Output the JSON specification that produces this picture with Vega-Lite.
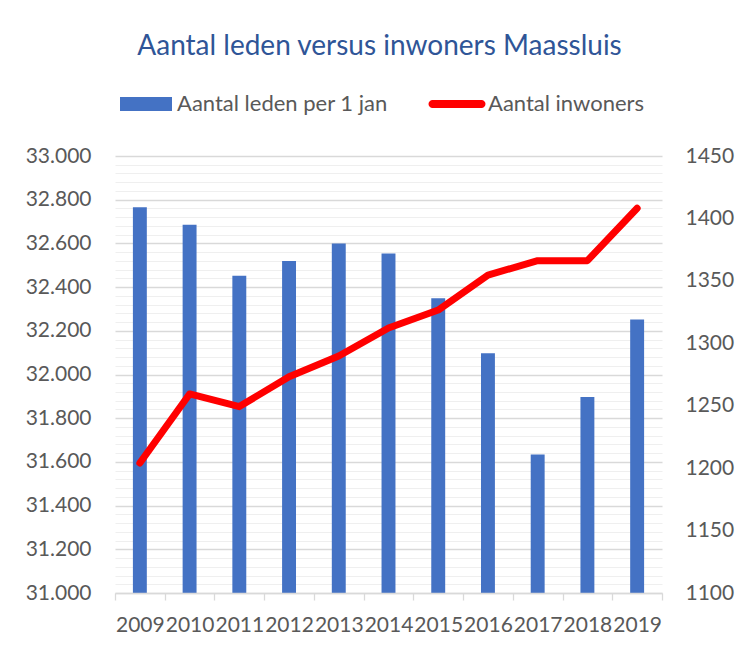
{
  "$schema": "https://vega.github.io/schema/vega-lite/v6.json",
  "width": 547,
  "height": 437,
  "autosize": {"type": "none"},
  "padding": {"left": 115, "top": 156, "right": 80, "bottom": 55},
  "background": "white",
  "config": {"view": {"stroke": null}, "font": "Lato"},
  "title": {
    "text": "Aantal leden versus inwoners Maassluis",
    "fontSize": 28,
    "font": "Lato",
    "fontWeight": "normal",
    "color": "#2F5597",
    "anchor": "middle",
    "frame": "group",
    "dx": -9,
    "offset": 17
  },
  "data": {
    "values": [
      {"jaar": "2009", "leden": 1409, "inwoners": 31595},
      {"jaar": "2010", "leden": 1395, "inwoners": 31911},
      {"jaar": "2011", "leden": 1354, "inwoners": 31853},
      {"jaar": "2012", "leden": 1366, "inwoners": 31990},
      {"jaar": "2013", "leden": 1380, "inwoners": 32085},
      {"jaar": "2014", "leden": 1372, "inwoners": 32213},
      {"jaar": "2015", "leden": 1336, "inwoners": 32295},
      {"jaar": "2016", "leden": 1292, "inwoners": 32455},
      {"jaar": "2017", "leden": 1211, "inwoners": 32521},
      {"jaar": "2018", "leden": 1257, "inwoners": 32521},
      {"jaar": "2019", "leden": 1319, "inwoners": 32761}
    ]
  },
  "encoding": {
    "x": {
      "field": "jaar",
      "type": "ordinal",
      "scale": {"paddingInner": 0, "paddingOuter": 0},
      "axis": {
        "title": null,
        "labelAngle": 0,
        "labelFontSize": 21,
        "labelColor": "#595959",
        "labelOverlap": false,
        "labelPadding": 14,
        "ticks": true,
        "tickBand": "extent",
        "tickSize": 7,
        "tickColor": "#D9D9D9",
        "tickWidth": 1.3,
        "domainColor": "#D9D9D9",
        "domainWidth": 1.3,
        "grid": false,
        "zindex": 1
      }
    }
  },
  "layer": [
    {
      "mark": {"type": "bar", "width": {"band": 0.28}, "clip": true},
      "encoding": {
        "y": {
          "field": "leden",
          "type": "quantitative",
          "scale": {"domain": [1100, 1450], "zero": false, "nice": false},
          "axis": {
            "orient": "right",
            "values": [1100, 1150, 1200, 1250, 1300, 1350, 1400, 1450],
            "format": "d",
            "grid": false,
            "ticks": false,
            "domain": false,
            "title": null,
            "labelFontSize": 21,
            "labelColor": "#595959",
            "labelPadding": 23
          }
        },
        "color": {
          "datum": "Aantal leden per 1 jan",
          "type": "nominal",
          "scale": {
            "domain": ["Aantal leden per 1 jan", "Aantal inwoners"],
            "range": ["#4472C4", "#FF0000"]
          },
          "legend": {
            "orient": "none",
            "legendX": 5,
            "legendY": -78,
            "direction": "horizontal",
            "title": null,
            "labelFontSize": 22,
            "labelColor": "#595959",
            "labelFont": "Lato",
            "labelLimit": 400,
            "symbolSize": 2704,
            "labelOffset": 5,
            "columnPadding": 40,
            "encode": {
              "symbols": {
                "update": {
                  "shape": {"signal": "datum.value === 'Aantal inwoners' ? 'M-0.942,-0.154H0.942A0.154,0.154 0 0 1 0.942,0.154H-0.942A0.154,0.154 0 0 1 -0.942,-0.154Z' : 'M-1,-0.27H1V0.27H-1Z'"},
                  "fill": {"signal": "datum.value === 'Aantal inwoners' ? '#FF0000' : '#4472C4'"},
                  "stroke": {"value": "transparent"},
                  "strokeWidth": {"value": 0},
                  "opacity": {"value": 1}
                }
              }
            }
          }
        }
      }
    },
    {
      "mark": {"type": "line", "strokeWidth": 7, "strokeCap": "round", "strokeJoin": "round"},
      "encoding": {
        "y": {
          "field": "inwoners",
          "type": "quantitative",
          "scale": {"domain": [31000, 33000], "zero": false, "nice": false},
          "axis": {
            "orient": "left",
            "values": [31000, 31040, 31080, 31120, 31160, 31200, 31240, 31280, 31320, 31360, 31400, 31440, 31480, 31520, 31560, 31600, 31640, 31680, 31720, 31760, 31800, 31840, 31880, 31920, 31960, 32000, 32040, 32080, 32120, 32160, 32200, 32240, 32280, 32320, 32360, 32400, 32440, 32480, 32520, 32560, 32600, 32640, 32680, 32720, 32760, 32800, 32840, 32880, 32920, 32960, 33000],
            "labelExpr": "datum.value % 200 === 0 ? replace(format(datum.value, ','), ',', '.') : ''",
            "grid": true,
            "gridColor": {"condition": {"test": "datum.value % 200 === 0", "value": "#D9D9D9"}, "value": "#EFEFEF"},
            "gridWidth": {"condition": {"test": "datum.value % 200 === 0", "value": 1.3}, "value": 1.1},
            "ticks": false,
            "domain": false,
            "title": null,
            "labelFontSize": 21,
            "labelColor": "#595959",
            "labelPadding": 24
          }
        },
        "color": {"datum": "Aantal inwoners", "type": "nominal"}
      }
    }
  ],
  "resolve": {"scale": {"y": "independent"}}
}
